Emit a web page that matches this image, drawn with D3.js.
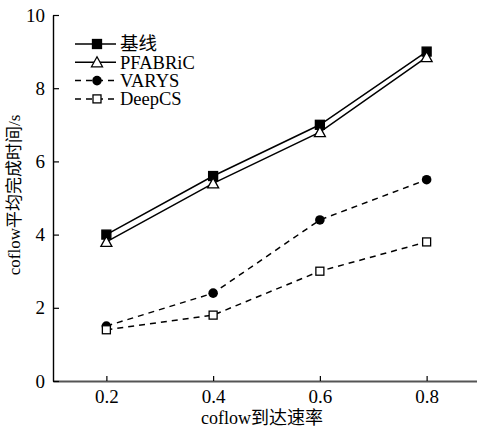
<!DOCTYPE html>
<html>
<head>
<meta charset="utf-8">
<script src="https://cdn.jsdelivr.net/npm/d3@7"></script>
<style>
  body { margin: 0; background: #fff; }
  text { font-family: "Liberation Serif", "Noto Sans CJK SC", serif; fill: #000; }
</style>
</head>
<body>
<div id="chart"></div>
<script>
// données
const rates = [0.2, 0.4, 0.6, 0.8];
const baseline = [4.0, 5.6, 7.0, 9.0];
const pfabric = [3.8, 5.4, 6.8, 8.85];
const varys = [1.5, 2.4, 4.4, 5.5];
const deepcs = [1.4, 1.8, 3.0, 3.8];
const seriesNames = ["基线", "PFABRiC", "VARYS", "DeepCS"];
const yTicks = [0, 2, 4, 6, 8, 10];
const xTicks = [0.2, 0.4, 0.6, 0.8];

const width = 477, height = 429;
const margin = { left: 53, right: 0, top: 15, bottom: 48 };

const series = [
  { name: seriesNames[0], values: baseline, dash: null, marker: "square", fill: "#000" },
  { name: seriesNames[1], values: pfabric, dash: null, marker: "triangle", fill: "#fff" },
  { name: seriesNames[2], values: varys, dash: "6,5", marker: "circle", fill: "#000" },
  { name: seriesNames[3], values: deepcs, dash: "6,5", marker: "square", fill: "#fff" }
];

const svg = d3.select("#chart").append("svg")
  .attr("width", width)
  .attr("height", height);

const x = d3.scaleLinear().domain([0.1, 0.9]).range([margin.left, 480]);
const y = d3.scaleLinear().domain([0, 10]).range([height - margin.bottom, margin.top]);

// axes
const xAxis = svg.append("g")
  .attr("transform", `translate(0,${y(0)})`)
  .call(d3.axisBottom(x).tickValues(xTicks).tickFormat(d3.format(".1f")).tickSizeInner(-5).tickSizeOuter(0).tickPadding(9));
xAxis.select(".domain").attr("stroke", "#555").attr("stroke-width", 2);
xAxis.selectAll(".tick line").attr("stroke", "#000").attr("stroke-width", 1.2);
xAxis.selectAll("text").style("font-size", "19px");

const yAxis = svg.append("g")
  .attr("transform", `translate(${margin.left},0)`)
  .call(d3.axisLeft(y).tickValues(yTicks).tickSizeInner(-6).tickSizeOuter(0).tickPadding(8));
yAxis.select(".domain").attr("stroke", "#000").attr("stroke-width", 1.4);
yAxis.selectAll(".tick line").attr("stroke", "#000").attr("stroke-width", 1.2);
yAxis.selectAll("text").style("font-size", "19px");

// titres des axes
svg.append("text")
  .attr("x", 262)
  .attr("y", 424)
  .attr("text-anchor", "middle")
  .style("font-size", "18px")
  .text("coflow到达速率");

svg.append("text")
  .attr("transform", `translate(20,195) rotate(-90)`)
  .attr("text-anchor", "middle")
  .style("font-size", "17px")
  .text("coflow平均完成时间/s");

// symboles
function drawMarker(g, type, fill, cx, cy) {
  if (type === "square") {
    const s = fill === "#000" ? 9 : 8;
    g.append("rect")
      .attr("x", cx - s / 2).attr("y", cy - s / 2)
      .attr("width", s).attr("height", s)
      .attr("fill", fill).attr("stroke", "#000").attr("stroke-width", 1.3);
  } else if (type === "triangle") {
    g.append("path")
      .attr("d", `M${cx},${cy - 5.5}L${cx + 5.5},${cy + 4.5}L${cx - 5.5},${cy + 4.5}Z`)
      .attr("fill", fill).attr("stroke", "#000").attr("stroke-width", 1.3);
  } else {
    g.append("circle")
      .attr("cx", cx).attr("cy", cy).attr("r", 4.8)
      .attr("fill", fill);
  }
}

const line = d3.line()
  .x((d, i) => x(rates[i]))
  .y(d => y(d));

series.forEach(s => {
  svg.append("path")
    .datum(s.values)
    .attr("d", line)
    .attr("fill", "none")
    .attr("stroke", "#000")
    .attr("stroke-width", 1.5)
    .attr("stroke-dasharray", s.dash);
  const g = svg.append("g");
  s.values.forEach((v, i) => drawMarker(g, s.marker, s.fill, x(rates[i]), y(v)));
});

// légende
const legend = svg.append("g").attr("transform", "translate(75,44)");
series.forEach((s, i) => {
  const row = legend.append("g").attr("transform", `translate(0,${i * 18.3})`);
  row.append("line")
    .attr("x1", 0).attr("x2", 41)
    .attr("y1", 0).attr("y2", 0)
    .attr("stroke", "#000")
    .attr("stroke-width", 1.5)
    .attr("stroke-dasharray", s.dash ? "6,5" : null);
  drawMarker(row, s.marker, s.fill, 22, 0);
  row.append("text")
    .attr("x", 45)
    .attr("y", 0)
    .attr("dy", "0.35em")
    .style("font-size", "18.5px")
    .text(s.name);
});
</script>
</body>
</html>
